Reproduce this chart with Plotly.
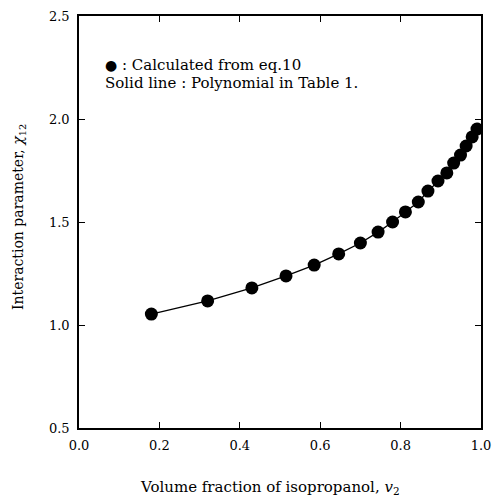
import plotly.graph_objects as go

vol_fraction = [0.18, 0.32, 0.43, 0.515, 0.585, 0.646, 0.70, 0.744, 0.78, 0.812,
                0.844, 0.868, 0.893, 0.915, 0.932, 0.949, 0.963, 0.978, 0.99]
chi12 = [1.053, 1.117, 1.18, 1.238, 1.291, 1.345, 1.398, 1.451, 1.50, 1.549,
         1.597, 1.65, 1.699, 1.738, 1.786, 1.825, 1.869, 1.913, 1.951]

x_ticks = [0.0, 0.2, 0.4, 0.6, 0.8, 1.0]
x_tick_labels = ["0.0", "0.2", "0.4", "0.6", "0.8", "1.0"]
y_ticks = [0.5, 1.0, 1.5, 2.0, 2.5]
y_tick_labels = ["0.5", "1.0", "1.5", "2.0", "2.5"]

font_family = "DejaVu Serif"

fig = go.Figure()
fig.add_trace(go.Scatter(
    x=vol_fraction, y=chi12, mode="lines+markers",
    line=dict(color="black", width=1.3),
    marker=dict(color="black", size=13),
    showlegend=False,
))

axis_common = dict(
    showline=True, linecolor="black", linewidth=1.5, mirror="ticks",
    ticks="inside", ticklen=6, tickcolor="black", tickwidth=1.2,
    showgrid=False, zeroline=False,
    tickfont=dict(family=font_family, size=13, color="black"),
)

fig.update_layout(
    width=500, height=499,
    margin=dict(l=79, r=9, t=15, b=71),
    paper_bgcolor="white", plot_bgcolor="white",
    xaxis=dict(range=[0, 1.0], tickvals=x_ticks, ticktext=x_tick_labels,
               ticklabelstandoff=5, **axis_common),
    yaxis=dict(range=[0.5, 2.5], tickvals=y_ticks, ticktext=y_tick_labels,
               ticklabelstandoff=5, **axis_common),
)

# Axis titles and in-plot key as positioned annotations
fig.add_annotation(
    x=(275 - 79) / 412, y=-(488 - 428) / 413, xref="paper", yref="paper",
    xanchor="center", yanchor="middle", showarrow=False,
    text="Volume fraction of isopropanol, <i>v</i><sub>2</sub>",
    font=dict(family=font_family, size=15, color="black"),
)
fig.add_annotation(
    x=-(79 - 17) / 412, y=(428 - 217) / 413, xref="paper", yref="paper",
    xanchor="center", yanchor="middle", showarrow=False, textangle=-90,
    text="Interaction parameter, <i>χ</i><sub>12</sub>",
    font=dict(family=font_family, size=14, color="black"),
)
fig.add_annotation(
    x=(104 - 79) / 412, y=(428 - 64) / 413, xref="paper", yref="paper",
    xanchor="left", yanchor="middle", showarrow=False,
    text="<span style='font-size:14px'>●</span> : Calculated from eq.10",
    font=dict(family=font_family, size=15, color="black"),
)
fig.add_annotation(
    x=(104 - 79) / 412, y=(428 - 82) / 413, xref="paper", yref="paper",
    xanchor="left", yanchor="middle", showarrow=False,
    text="Solid line : Polynomial in Table 1.",
    font=dict(family=font_family, size=15, color="black"),
)

fig.write_html("out.html")
